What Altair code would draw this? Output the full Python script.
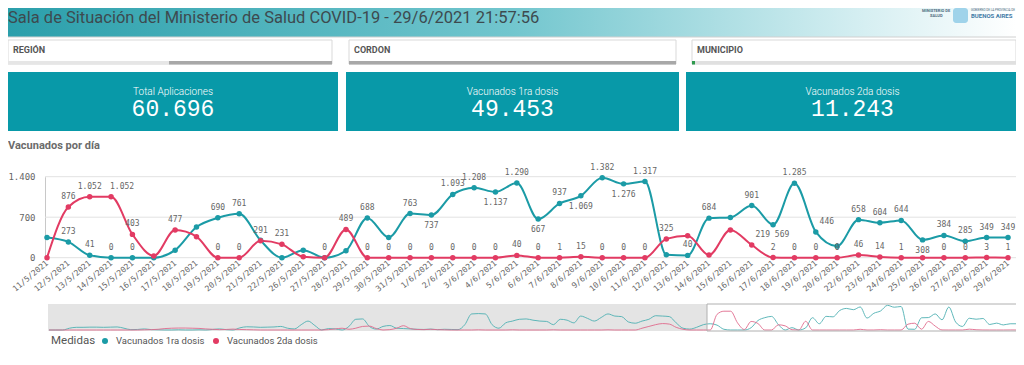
import altair as alt
import pandas as pd

# ---------------- data ----------------
TITLE = "Sala de Situación del Ministerio de Salud COVID-19 - 29/6/2021 21:57:56"
CHART_TITLE = "Vacunados por día"
filter_labels = ["REGIÓN", "CORDON", "MUNICIPIO"]
kpi_titles = ["Total Aplicaciones", "Vacunados 1ra dosis", "Vacunados 2da dosis"]
kpi_values = ["60.696", "49.453", "11.243"]
series_names = ["Vacunados 1ra dosis", "Vacunados 2da dosis"]
legend_title = "Medidas"

fechas = ["11/5/2021", "12/5/2021", "13/5/2021", "14/5/2021", "15/5/2021", "16/5/2021",
          "17/5/2021", "18/5/2021", "19/5/2021", "20/5/2021", "21/5/2021", "22/5/2021",
          "26/5/2021", "27/5/2021", "28/5/2021", "29/5/2021", "30/5/2021", "31/5/2021",
          "1/6/2021", "2/6/2021", "3/6/2021", "4/6/2021", "5/6/2021", "6/6/2021",
          "7/6/2021", "8/6/2021", "9/6/2021", "10/6/2021", "11/6/2021", "12/6/2021",
          "13/6/2021", "14/6/2021", "15/6/2021", "16/6/2021", "17/6/2021", "18/6/2021",
          "19/6/2021", "20/6/2021", "22/6/2021", "23/6/2021", "24/6/2021", "25/6/2021",
          "26/6/2021", "27/6/2021", "28/6/2021", "29/6/2021"]

dosis1 = [350, 273, 41, 0, 0, 0, 130, 530, 690, 761,
          300, 0, 130, 0, 120, 688, 350, 763, 737, 1093,
          1208, 1137, 1290, 667, 937, 1069, 1382, 1276, 1317, 50,
          40, 684, 695, 901, 569, 1285, 446, 200, 658, 604,
          644, 308, 384, 285, 349, 349]
dosis2 = [0, 876, 1052, 1052, 403, 30, 477, 363, 0, 0,
          291, 231, 15, 0, 489, 0, 0, 0, 0, 0,
          0, 0, 40, 0, 1, 15, 0, 0, 0, 325,
          380, 45, 480, 219, 2, 0, 0, 0, 46, 14,
          1, 0, 0, 0, 3, 1]

# dates whose value label is not shown in the picture
ocultas1 = ["11/5/2021", "16/5/2021", "17/5/2021", "18/5/2021", "21/5/2021", "22/5/2021",
            "26/5/2021", "27/5/2021", "28/5/2021", "30/5/2021", "12/6/2021", "15/6/2021",
            "20/6/2021"]
ocultas2 = ["11/5/2021", "16/5/2021", "18/5/2021", "26/5/2021", "13/6/2021", "14/6/2021",
            "15/6/2021", "25/6/2021"]

# earlier history shown only in the overview strip (estimated)
hist1 = [0, 0, 0, 100, 150, 150, 160, 160, 150, 160,
         170, 100, 20, 30, 60, 20, 10, 0, 0, 10,
         0, 0, 10, 0, 30, 60, 20, 0, 120, 180,
         170, 150, 160, 170, 200, 100, 60, 300, 500, 250,
         0, 80, 60, 0, 200, 600, 620, 200, 50, 200,
         250, 100, 80, 60, 40, 30, 50, 20, 40, 30,
         20, 300, 900, 920, 900, 300, 100, 400, 500, 600,
         620, 550, 500, 480, 300, 600, 550, 400, 780, 650,
         500, 700, 900, 780, 750, 450, 380, 500, 600, 800,
         780, 750, 400, 100, 50, 150, 300]
hist2 = [0, 0, 0, 0, 0, 0, 0, 0, 0, 0,
         0, 0, 0, 0, 10, 20, 40, 80, 100, 110,
         110, 100, 90, 60, 40, 20, 30, 50, 30, 20,
         10, 0, 0, 0, 0, 0, 0, 0, 0, 0,
         0, 20, 60, 100, 40, 100, 200, 220, 80, 0,
         20, 100, 240, 80, 30, 20, 40, 20, 10, 0,
         0, 0, 0, 10, 0, 0, 0, 0, 10, 0,
         0, 0, 0, 0, 10, 0, 0, 0, 0, 0,
         0, 0, 10, 0, 0, 0, 0, 100, 200, 300,
         360, 330, 150, 40, 0, 0, 0]

y_ticks = [0, 700, 1400]

# ---------------- layout / style ----------------
TEAL = "#1b9ba6"
RED = "#e23b63"
KPI_FILL = "#0899a8"
LABEL_GREY = "#666666"
MONO = "DejaVu Sans Mono"
SANS = "Roboto"
W, H = 1008, 349
# label placement as seen in the picture
below_labels_1 = ["1/6/2021", "4/6/2021", "6/6/2021", "8/6/2021", "10/6/2021",
                  "17/6/2021", "25/6/2021"]
right_labels_1 = ["17/6/2021", "19/6/2021"]
right_labels_2 = ["14/5/2021", "16/6/2021"]

ONE = pd.DataFrame({"k": [0]})


def rect(x0, x1, y0, y1, **kw):
    return alt.Chart(ONE).mark_rect(**kw).encode(
        x=alt.value(x0), x2=alt.value(x1), y=alt.value(y0), y2=alt.value(y1))


def text(s, x, y, **kw):
    return alt.Chart(pd.DataFrame({"s": [s]})).mark_text(**kw).encode(
        x=alt.value(x), y=alt.value(y), text="s:N")


layers = []

# header band
layers.append(rect(0, W, 0, 29, color=alt.Gradient(
    gradient="linear", x1=0, x2=1, y1=0, y2=0,
    stops=[alt.GradientStop(color="#2b9fab", offset=0),
           alt.GradientStop(color="#72c6ce", offset=0.5),
           alt.GradientStop(color="#d6eff2", offset=0.85),
           alt.GradientStop(color="#ffffff", offset=1)])))
layers.append(alt.Chart(ONE).mark_rule(color="#d0d0d0").encode(
    x=alt.value(0), x2=alt.value(W), y=alt.value(29)))
layers.append(text(TITLE, 0, 10, align="left", baseline="middle", font=SANS,
                   fontSize=16.5, color="#3d4a4f"))
layers.append(text("MINISTERIO DE", 914, 3, align="left", baseline="middle", font=SANS,
                   fontSize=4, color="#4d6b80", fontWeight="bold"))
layers.append(text("SALUD", 922, 8, align="left", baseline="middle", font=SANS,
                   fontSize=4, color="#4d6b80", fontWeight="bold"))
layers.append(rect(945, 960, 0, 15, color="#9fd3ea", cornerRadius=3))
layers.append(text("GOBIERNO DE LA PROVINCIA DE", 963, 2, align="left", baseline="middle",
                   font=SANS, fontSize=3, color="#4d6b80"))
layers.append(text("BUENOS AIRES", 963, 8, align="left", baseline="middle", font=SANS,
                   fontSize=6, color="#3f7aa6", fontWeight="bold"))

# filter boxes
FILTER_X = [(0, 324), (341, 668), (684, W)]
for (x0, x1), lab in zip(FILTER_X, filter_labels):
    layers.append(rect(x0, x1, 32, 56, fill="white", stroke="#d9d9d9", strokeWidth=1))
    layers.append(text(lab, x0 + 5, 42, align="left", baseline="middle", font=SANS,
                       fontSize=9, fontWeight="bold", color="#555555"))
layers.append(rect(0, 161, 53, 56.5, color="#e6e6e6"))
layers.append(rect(161, 324, 53, 56.5, color="#a8a8a8"))
layers.append(rect(341, 668, 53, 56.5, color="#a8a8a8"))
layers.append(rect(684, W, 53, 56.5, color="#e0e0e0"))
layers.append(rect(684, 687, 53, 56.5, color="#2e9a4e"))

# KPI tiles
KPI_X = [(0, 330), (338, 671), (678, W)]
for (x0, x1), t, v in zip(KPI_X, kpi_titles, kpi_values):
    cx = (x0 + x1) / 2 if x1 < W else (x0 + 1011) / 2
    layers.append(rect(x0, x1, 64, 123, color=KPI_FILL))
    layers.append(text(t, cx, 84, align="center", baseline="middle", font=SANS,
                       fontSize=10, fontWeight=300, color="white"))
    layers.append(text(v, cx, 101, align="center", baseline="middle", font="Liberation Mono",
                       fontSize=23, color="white"))

layers.append(text(CHART_TITLE, 0, 138, align="left", baseline="middle", font=SANS,
                   fontSize=11, fontWeight="bold", color="#6b6b6b"))

# ---------------- main line chart ----------------
rows = []
for name, vals, hidden, below, right in [
        (series_names[0], dosis1, ocultas1, below_labels_1, right_labels_1),
        (series_names[1], dosis2, ocultas2, [], right_labels_2)]:
    for f, v in zip(fechas, vals):
        rows.append({"fecha": f, "serie": name, "valor": v,
                     "visible": f not in hidden, "debajo": f in below,
                     "derecha": f in right})
df = pd.DataFrame(rows)

xscale = alt.Scale(type="point", domain=fechas, range=[39, 1000], padding=0)
yscale = alt.Scale(domain=[0, 1400], range=[249.7, 168.7], nice=False, zero=False)
color_scale = alt.Scale(domain=series_names, range=[TEAL, RED])

xaxis = alt.Axis(title=None, orient="bottom", offset=-99, domain=False, ticks=False,
                 grid=False, labelAngle=320, labelAlign="right", labelBaseline="middle",
                 labelPadding=4, labelFont=MONO, labelFontSize=8, labelColor=LABEL_GREY,
                 labelOverlap=False, labelBound=False, labelFlush=False)
yaxis = alt.Axis(title=None, orient="left", offset=-37, values=y_ticks, grid=False,
                 ticks=False, domain=True, domainColor="#c8c8c8", labelPadding=10,
                 labelFont=MONO, labelFontSize=9, labelColor=LABEL_GREY,
                 labelExpr="replace(format(datum.value, ','), ',', '.')")

grid = alt.Chart(pd.DataFrame({"t": y_ticks})).mark_rule(color="#e2e2e2").encode(
    y=alt.Y("t:Q", scale=yscale, axis=None), x=alt.value(37), x2=alt.value(W))

base = alt.Chart(df).transform_calculate(
    txt="replace(format(datum.valor, ','), ',', '.')")
X = alt.X("fecha:O", scale=xscale, axis=xaxis, sort=None)
Y = alt.Y("valor:Q", scale=yscale, axis=yaxis)
C = alt.Color("serie:N", scale=color_scale, legend=None)

lines = base.mark_line(interpolate="monotone", strokeWidth=2).encode(x=X, y=Y, color=C)
points = base.mark_circle(size=30, opacity=1).encode(x=X, y=Y, color=C)


def label_layer(cond, dx, dy):
    return base.transform_filter(cond).mark_text(
        dx=dx, dy=dy, font=MONO, fontSize=8, color=LABEL_GREY, baseline="middle").encode(
        x=X, y=Y, text="txt:N")


label_layers = [
    label_layer("datum.visible && !datum.debajo && !datum.derecha", 0, -10),
    label_layer("datum.visible && !datum.debajo && datum.derecha", 11, -10),
    label_layer("datum.visible && datum.debajo && !datum.derecha", 0, 11),
    label_layer("datum.visible && datum.debajo && datum.derecha", 9, 10),
]

main = alt.layer(lines, points, *label_layers)

# ---------------- overview strip ----------------
n_all = len(hist1) + len(fechas)
mdf = pd.DataFrame({"i": list(range(n_all)), "a": hist1 + dosis1, "b": hist2 + dosis2})
mx = alt.Scale(domain=[0, n_all - 1], range=[41, 1009], nice=False, zero=False)
my = alt.Scale(domain=[0, 1400], range=[322, 297], nice=False)
mini_bg = rect(40, 1010, 296, 323, color="white")
mini_shade = rect(40, 699, 296, 323, color="#e4e4e4")
mini_a = alt.Chart(mdf).mark_line(interpolate="monotone", strokeWidth=1, color="#4fb0b3",
                                  opacity=0.9).encode(
    x=alt.X("i:Q", scale=mx, axis=None), y=alt.Y("a:Q", scale=my, axis=None))
mini_b = alt.Chart(mdf).mark_line(interpolate="monotone", strokeWidth=1, color="#e06a8d",
                                  opacity=0.9).encode(
    x=alt.X("i:Q", scale=mx, axis=None), y=alt.Y("b:Q", scale=my, axis=None))
mini_win = alt.Chart(ONE).mark_rect(fillOpacity=0, stroke="#b0b0b0", strokeWidth=1).encode(
    x=alt.value(699), x2=alt.value(1010), y=alt.value(296), y2=alt.value(323))

# ---------------- legend ----------------
leg = [text(legend_title, 43, 333, align="left", baseline="middle", font=SANS,
            fontSize=11.5, color="#555555")]
LEG_X = [97, 208]
for lx, name, col in zip(LEG_X, series_names, [TEAL, RED]):
    leg.append(alt.Chart(ONE).mark_circle(size=36, opacity=1, color=col).encode(
        x=alt.value(lx), y=alt.value(333)))
    leg.append(text(name, lx + 11, 333, align="left", baseline="middle", font=SANS,
                    fontSize=9.5, color="#555555"))

layers += [grid, main, mini_bg, mini_shade, mini_a, mini_b, mini_win] + leg

chart = alt.layer(*layers).resolve_scale(
    x="independent", y="independent"
).properties(
    width=W, height=H, padding=0, autosize="none"
).configure_view(stroke=None)

chart.save("out.html", embed_options={"renderer": "svg", "actions": False})
